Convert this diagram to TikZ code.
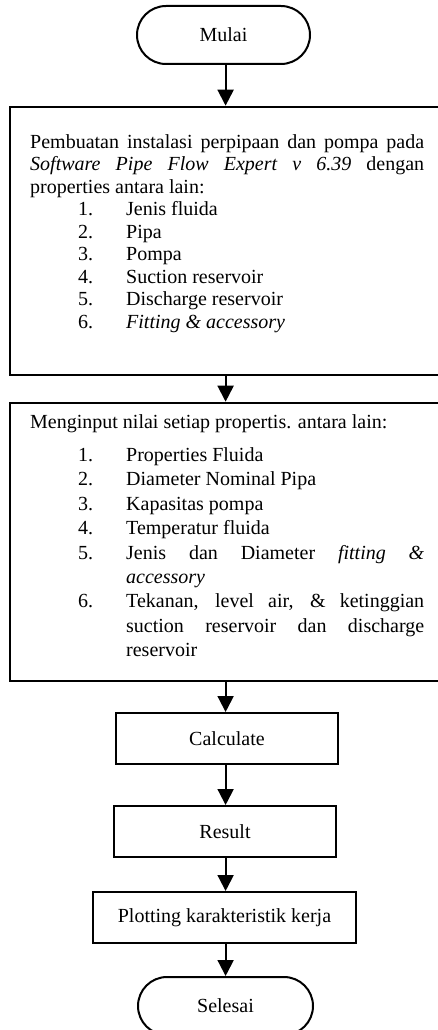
\documentclass[tikz,border=0pt]{standalone}
\usepackage{fontspec}
\setmainfont{Liberation Serif}
\usetikzlibrary{arrows.meta}
% numbered entry inside a box: number indented, hanging text
\newcommand\listentry[2]{\par\hangindent=96pt\hangafter=1\noindent\hspace*{48pt}\makebox[48pt][l]{#1}#2\par}
\begin{document}
\begin{tikzpicture}[x=1pt,y=1pt,
  txt/.style={font=\fontsize{20}{22.7}\selectfont},
  terminal/.style={draw, line width=2pt, rounded corners=29pt, minimum width=#1, minimum height=58pt, inner sep=0pt, txt},
  process/.style={draw, line width=2pt, minimum width=#1, minimum height=51pt, inner sep=0pt, txt},
  bigbox/.style={draw, line width=2pt, inner sep=0pt, anchor=north west},
  body/.style={inner sep=0pt, anchor=base west, text width=394pt, align=justify},
  flow/.style={line width=2pt, -{Triangle[width=16pt,length=16pt]}}
]
\useasboundingbox (0,0) rectangle (438,-1030);

\coordinate (axis) at (225.6,0);

\node[terminal=173pt] (mulai) at (223.5,-35) {Mulai};

\node[bigbox, minimum width=440pt, minimum height=268.3pt] (box1) at (9,-105.7) {};
\node[body, font=\fontsize{20}{22.5}\selectfont] (box1text) at (30,-148) {%
  \parindent=0pt
  Pembuatan instalasi perpipaan dan pompa pada\linebreak
  \textit{Software Pipe Flow Expert v 6.39} dengan\linebreak
  properties antara lain:
  \listentry{1.}{Jenis fluida}
  \listentry{2.}{Pipa}
  \listentry{3.}{Pompa}
  \listentry{4.}{Suction reservoir}
  \listentry{5.}{Discharge reservoir}
  \listentry{6.}{\textit{Fitting \& accessory}}};

\node[bigbox, minimum width=440pt, minimum height=278.3pt] (box2) at (9,-401.7) {};
\node[body, font=\fontsize{20}{24.4}\selectfont] (box2text) at (30,-428) {%
  \parindent=0pt
  Menginput nilai setiap propertis. antara lain:\par\vspace{9pt}
  \listentry{1.}{Properties Fluida}
  \listentry{2.}{Diameter Nominal Pipa}
  \listentry{3.}{Kapasitas pompa}
  \listentry{4.}{Temperatur fluida}
  \listentry{5.}{Jenis dan Diameter \textit{fitting \&}\linebreak \textit{accessory}}
  \listentry{6.}{Tekanan, level air, \& ketinggian\linebreak suction reservoir dan discharge\linebreak reservoir}};

\node[process=222pt] (calc) at (227,-738.5) {Calculate};
\node[process=222pt] (result) at (225,-831.5) {Result};
\node[process=263pt] (plot) at (224.5,-917.5) {Plotting karakteristik kerja};
\node[terminal=175pt] (selesai) at (225.5,-1006) {Selesai};

\draw[flow] (mulai.south -| axis) -- (box1.north -| axis);
\draw[flow] (box1.south -| axis) -- (box2.north -| axis);
\draw[flow] (box2.south -| axis) -- (calc.north -| axis);
\draw[flow] (calc.south -| axis) -- (result.north -| axis);
\draw[flow] (result.south -| axis) -- (plot.north -| axis);
\draw[flow] (plot.south -| axis) -- (selesai.north -| axis);
\end{tikzpicture}
\end{document}
